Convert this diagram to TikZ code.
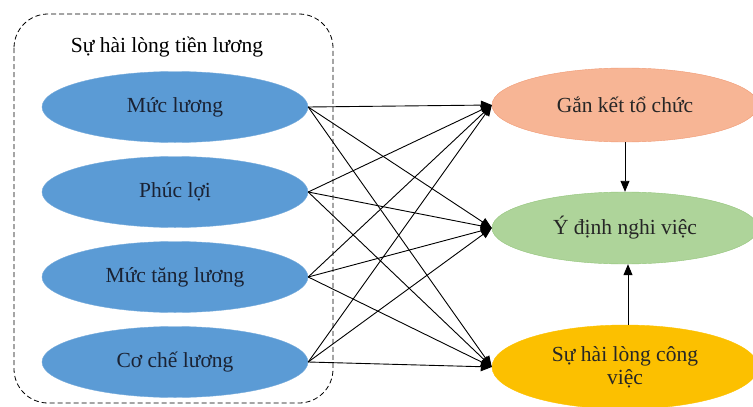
\documentclass[tikz,border=0pt]{standalone}
\usepackage{fontspec}
\setmainfont{Liberation Serif}
\usetikzlibrary{shapes.geometric,arrows.meta}
\definecolor{lblue}{HTML}{5B9BD5}
\definecolor{lorange}{HTML}{F7B595}
\definecolor{lorangeb}{HTML}{F09A74}
\definecolor{lgreen}{HTML}{AED49A}
\definecolor{lgreenb}{HTML}{93C47A}
\definecolor{lgold}{HTML}{FCC000}
\definecolor{ltext}{HTML}{1A2233}
\begin{document}
\begin{tikzpicture}[x=1pt,y=-1pt,
  oval/.style={ellipse,inner sep=0pt,font=\fontsize{21.5}{23}\selectfont,align=center},
  leftoval/.style={oval,fill=lblue,draw=lblue!85!white,minimum width=266pt,minimum height=71pt,text=ltext},
  rightoval/.style={oval,minimum width=266pt,minimum height=74pt,text=black!85},
  conn/.style={draw=black,line width=0.9pt,-{Triangle[length=11pt,width=9pt]}}]
\useasboundingbox (0,0) rectangle (753,407);
\draw[dash pattern=on 5pt off 3pt,line width=0.8pt,rounded corners=34pt] (14,14) rectangle (333,403);
\node[font=\fontsize{21.5}{23}\selectfont] (title) at (167,47) {Sự hài lòng tiền lương};
\node[leftoval] (a) at (175,107) {Mức lương};
\node[leftoval] (b) at (175,192) {Phúc lợi};
\node[leftoval] (c) at (175,277) {Mức tăng lương};
\node[leftoval] (d) at (175,362) {Cơ chế lương};
\node[rightoval,fill=lorange,draw=lorangeb] (g) at (625,105) {Gắn kết tổ chức};
\node[rightoval,fill=lgreen,draw=lgreenb,minimum height=72pt] (y) at (625,228) {Ý định nghi việc};
\node[rightoval,fill=lgold,draw=lgold,minimum height=84pt] (s) at (625,367) {Sự hài lòng công\\việc};
\foreach \src in {a,b,c,d}{
  \foreach \dst in {g,y,s}{
    \path[conn] (\src.east) -- (\dst.west);
  }
}
\path[conn] (g.south) -- (y.north);
\path[conn] ([xshift=3pt]s.north) -- ([xshift=3pt]s.north |- y.south);
\end{tikzpicture}
\end{document}
